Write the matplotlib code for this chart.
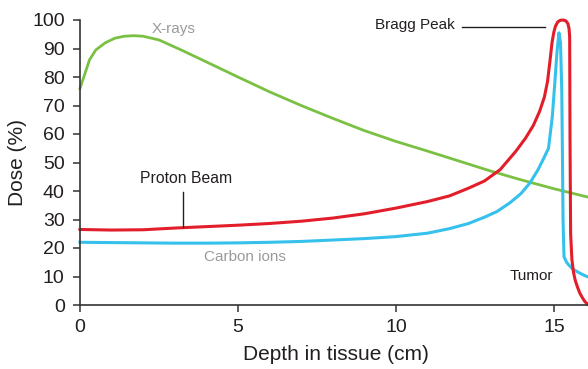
import matplotlib
matplotlib.use("Agg")
import matplotlib.pyplot as plt

# depth (cm) / dose (%)
xray_x = [0, 0.15, 0.3, 0.5, 0.8, 1.1, 1.4, 1.7, 2.0, 2.5, 3.2, 4, 5, 6, 7, 8, 9, 10,
          11, 12, 13, 14, 15, 16.1]
xray_y = [76, 81, 86, 89.5, 92, 93.6, 94.3, 94.5, 94.3, 93.0, 89.5, 85.3, 80.0, 74.8,
          70.0, 65.5, 61.2, 57.4, 54.0, 50.5, 47.0, 43.8, 40.8, 37.8]

proton_x = [0, 1, 2, 3, 4, 5, 6, 7, 8, 9, 10, 11, 11.7, 12.3, 12.8, 13.3, 13.8, 14.1,
            14.35, 14.55, 14.7, 14.8, 14.88, 14.94, 15.0, 15.05, 15.12, 15.2, 15.29,
            15.38, 15.44, 15.48, 15.5, 15.51, 15.53, 15.57, 15.62, 15.68, 15.75, 15.82,
            15.9, 15.98, 16.1]
proton_y = [26.5, 26.3, 26.4, 27.0, 27.5, 28.0, 28.6, 29.4, 30.5, 32.0, 34.0, 36.3, 38.3,
            41.0, 43.5, 47.5, 54.0, 58.5, 63.0, 68.0, 73.0, 78.5, 86.0, 92.0, 95.8, 97.8,
            99.3, 99.9, 100.0, 99.7, 98.8, 97.0, 94.0, 60.0, 25.0, 16.0, 11.5, 8.5, 6.2,
            4.2, 2.6, 1.2, 0]

carbon_x = [0, 1, 2, 3, 4, 5, 6, 7, 8, 9, 10, 11, 11.7, 12.3, 12.8, 13.2, 13.6, 13.95,
            14.24, 14.5, 14.68, 14.83, 14.95, 15.03, 15.1, 15.16, 15.21, 15.25, 15.27,
            15.29, 15.32, 15.4, 15.5, 15.6, 15.72, 15.85, 16.0, 16.1]
carbon_y = [22.0, 21.9, 21.8, 21.7, 21.7, 21.8, 22.0, 22.3, 22.8, 23.3, 24.0, 25.2, 26.8,
            28.6, 30.8, 32.8, 35.8, 39.0, 42.8, 47.5, 51.5, 55.0, 66.0, 78.0, 89.0, 95.5,
            92.0, 75.0, 54.0, 30.0, 17.0, 15.0, 13.7, 12.6, 11.8, 11.0, 10.2, 9.8]

x_ticks = [0, 5, 10, 15]
y_ticks = list(range(0, 101, 10))

plt.rcParams["font.family"] = ["Liberation Sans", "DejaVu Sans"]
dark = "#231f20"
gray = "#9a9a9a"

fig = plt.figure(figsize=(5.88, 3.69), dpi=100)
ax = fig.add_axes([80 / 588, 1 - 305 / 369, 508 / 588, 285 / 369])

ax.plot(xray_x, xray_y, color="#7ac143", lw=2.0, clip_on=False)
ax.plot(carbon_x, carbon_y, color="#35c1ec", lw=2.2, clip_on=False)
ax.plot(proton_x, proton_y, color="#e31e2b", lw=2.2, clip_on=False)

ax.set_xlim(0, 16.08)
ax.set_ylim(0, 100)
ax.set_xticks(x_ticks)
ax.set_yticks(y_ticks)
for s in ("top", "right"):
    ax.spines[s].set_visible(False)
for s in ("left", "bottom"):
    ax.spines[s].set_color("#333333")
    ax.spines[s].set_linewidth(1.2)
ax.tick_params(length=5, width=1.1, color="#333333", labelsize=14, labelcolor=dark)
ax.tick_params(axis="y", pad=6)
ax.tick_params(axis="x", pad=5)

ax.set_xlabel("Depth in tissue (cm)", fontsize=15, color=dark)
ax.set_ylabel("Dose (%)", fontsize=15, color=dark)
ax.xaxis.set_label_coords(0.503, -0.14)
ax.yaxis.set_label_coords(-0.104, 0.5)

# annotations
ax.text(2.97, 96.7, "X-rays", fontsize=11, color=gray, ha="center", va="center")
ax.text(5.23, 17.0, "Carbon ions", fontsize=11, color=gray, ha="center", va="center")
ax.text(3.35, 44.4, "Proton Beam", fontsize=11.3, color=dark, ha="center", va="center")
ax.plot([3.26, 3.26], [39.6, 27.4], color=dark, lw=1)
ax.text(11.87, 98.2, "Bragg Peak", fontsize=11, color=dark, ha="right", va="center")
ax.plot([12.09, 14.72], [97.5, 97.5], color=dark, lw=1, clip_on=False)
ax.text(14.28, 10.3, "Tumor", fontsize=11, color=dark, ha="center", va="center")

fig.savefig("out.png", dpi=100)
